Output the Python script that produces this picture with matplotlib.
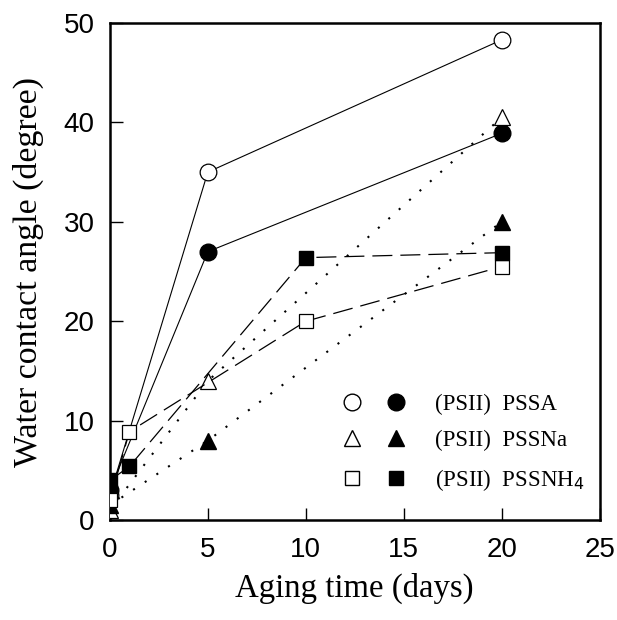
import matplotlib
matplotlib.use("Agg")
import matplotlib.pyplot as plt
from matplotlib.legend_handler import HandlerTuple
from matplotlib.lines import Line2D

# Data (aging time in days, water contact angle in degrees)
x_pssa_open = [0, 5, 20]
y_pssa_open = [2.5, 35, 48.3]
x_pssa_fill = [0, 5, 20]
y_pssa_fill = [3, 27, 38.9]
x_pssna_open = [0, 5, 20]
y_pssna_open = [1, 14, 40.5]
x_pssna_fill = [0, 5, 20]
y_pssna_fill = [1.5, 8, 30]
x_pssnh4_open = [0, 1, 10, 20]
y_pssnh4_open = [2, 8.9, 20, 25.5]
x_pssnh4_fill = [0, 1, 10, 20]
y_pssnh4_fill = [4, 5.4, 26.4, 26.9]

labels = ["(PSII)  PSSA", "(PSII)  PSSNa", "(PSII)  PSSNH$_4$"]
xticks = [0, 5, 10, 15, 20, 25]
yticks = [0, 10, 20, 30, 40, 50]

fig = plt.figure(figsize=(6.17, 6.2), dpi=100)
ax = fig.add_axes([0.178, 0.161, 0.794, 0.802])

lw = 0.8
ms_c, ms_t, ms_s = 12, 12, 10.5
dot = (0, (1, 5.7))
dash = (0, (16, 6.4))

ax.plot(x_pssa_open, y_pssa_open, color='black', lw=lw, ls='-', marker='o', ms=ms_c,
        mfc='white', mec='black', mew=0.9, zorder=3)
ax.plot(x_pssa_fill, y_pssa_fill, color='black', lw=lw, ls='-', marker='o', ms=ms_c,
        mfc='black', mec='black', zorder=3)
ax.plot(x_pssna_open, y_pssna_open, color='black', lw=1.5, ls=dot, marker='^', ms=ms_t,
        mfc='white', mec='black', mew=0.9, zorder=3)
ax.plot(x_pssna_fill, y_pssna_fill, color='black', lw=1.5, ls=dot, marker='^', ms=ms_t,
        mfc='black', mec='black', zorder=3)
ax.plot(x_pssnh4_open, y_pssnh4_open, color='black', lw=0.9, ls=dash, marker='s', ms=ms_s,
        mfc='white', mec='black', mew=0.9, zorder=3)
ax.plot(x_pssnh4_fill, y_pssnh4_fill, color='black', lw=0.9, ls=dash, marker='s', ms=ms_s,
        mfc='black', mec='black', zorder=3)

ax.set_xlim(0, 25)
ax.set_ylim(0, 50)
ax.set_xticks(xticks)
ax.set_yticks(yticks)
ax.tick_params(direction='in', length=9, width=1, top=False, right=False, labelsize=20)
ax.tick_params(axis='y', pad=11)
ax.tick_params(axis='x', pad=12)
for lab in ax.get_xticklabels() + ax.get_yticklabels():
    lab.set_fontfamily('Liberation Sans')
for s in ax.spines.values():
    s.set_linewidth(1.8)

ax.set_xlabel("Aging time (days)", fontfamily='Liberation Serif', fontsize=23.6, labelpad=7)
ax.set_ylabel("Water contact angle (degree)", fontfamily='Liberation Serif', fontsize=24.4, labelpad=14)

mk = dict(ls='none', mec='black')
handles = [
    (Line2D([], [], marker='o', mfc='white', ms=ms_c, **mk), Line2D([], [], marker='o', mfc='black', ms=ms_c, **mk)),
    (Line2D([], [], marker='^', mfc='white', ms=ms_t, **mk), Line2D([], [], marker='^', mfc='black', ms=ms_t, **mk)),
    (Line2D([], [], marker='s', mfc='white', ms=ms_s, **mk), Line2D([], [], marker='s', mfc='black', ms=ms_s, **mk)),
]
leg = ax.legend(handles, labels, handler_map={tuple: HandlerTuple(ndivide=None, pad=1.0)},
                loc='upper left', bbox_to_anchor=(0.472, 0.255), frameon=False,
                borderpad=0, borderaxespad=0,
                prop={'family': 'Liberation Serif', 'size': 16.5}, handlelength=2.84,
                handletextpad=1.24, labelspacing=0.68)

fig.savefig("out.png", dpi=100)
